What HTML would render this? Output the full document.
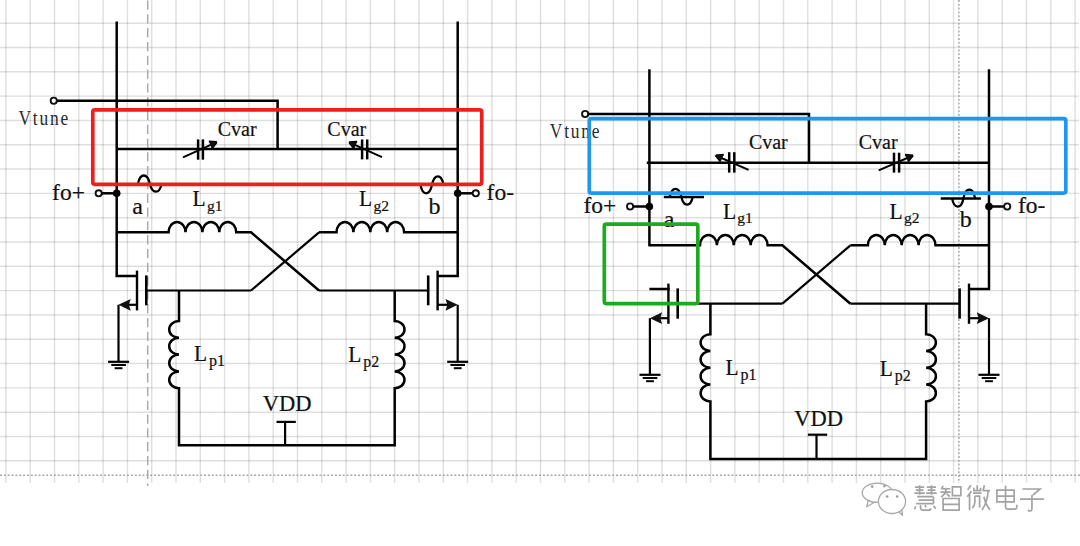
<!DOCTYPE html>
<html><head><meta charset="utf-8"><style>
html,body{margin:0;padding:0;background:#fff;}
body{width:1080px;height:546px;overflow:hidden;}
svg{display:block;}
</style></head><body>
<svg width="1080" height="546" viewBox="0 0 1080 546">
<rect width="1080" height="546" fill="#ffffff"/>
<g stroke="#000" stroke-opacity="0.125" stroke-width="1.45">
<line x1="5.9" y1="0" x2="5.9" y2="483"/>
<line x1="30.2" y1="0" x2="30.2" y2="483"/>
<line x1="54.5" y1="0" x2="54.5" y2="483"/>
<line x1="78.8" y1="0" x2="78.8" y2="483"/>
<line x1="103.1" y1="0" x2="103.1" y2="483"/>
<line x1="127.4" y1="0" x2="127.4" y2="483"/>
<line x1="151.7" y1="0" x2="151.7" y2="483"/>
<line x1="176" y1="0" x2="176" y2="483"/>
<line x1="200.3" y1="0" x2="200.3" y2="483"/>
<line x1="224.6" y1="0" x2="224.6" y2="483"/>
<line x1="248.9" y1="0" x2="248.9" y2="483"/>
<line x1="273.2" y1="0" x2="273.2" y2="483"/>
<line x1="297.5" y1="0" x2="297.5" y2="483"/>
<line x1="321.8" y1="0" x2="321.8" y2="483"/>
<line x1="346.1" y1="0" x2="346.1" y2="483"/>
<line x1="370.4" y1="0" x2="370.4" y2="483"/>
<line x1="394.7" y1="0" x2="394.7" y2="483"/>
<line x1="419" y1="0" x2="419" y2="483"/>
<line x1="443.3" y1="0" x2="443.3" y2="483"/>
<line x1="467.6" y1="0" x2="467.6" y2="483"/>
<line x1="491.9" y1="0" x2="491.9" y2="483"/>
<line x1="516.2" y1="0" x2="516.2" y2="483"/>
<line x1="540.5" y1="0" x2="540.5" y2="483"/>
<line x1="564.8" y1="0" x2="564.8" y2="483"/>
<line x1="589.1" y1="0" x2="589.1" y2="483"/>
<line x1="613.4" y1="0" x2="613.4" y2="483"/>
<line x1="637.7" y1="0" x2="637.7" y2="483"/>
<line x1="662" y1="0" x2="662" y2="483"/>
<line x1="686.3" y1="0" x2="686.3" y2="483"/>
<line x1="710.6" y1="0" x2="710.6" y2="483"/>
<line x1="734.9" y1="0" x2="734.9" y2="483"/>
<line x1="759.2" y1="0" x2="759.2" y2="483"/>
<line x1="783.5" y1="0" x2="783.5" y2="483"/>
<line x1="807.8" y1="0" x2="807.8" y2="483"/>
<line x1="832.1" y1="0" x2="832.1" y2="483"/>
<line x1="856.4" y1="0" x2="856.4" y2="483"/>
<line x1="880.7" y1="0" x2="880.7" y2="483"/>
<line x1="905" y1="0" x2="905" y2="483"/>
<line x1="929.3" y1="0" x2="929.3" y2="483"/>
<line x1="953.6" y1="0" x2="953.6" y2="483"/>
<line x1="977.9" y1="0" x2="977.9" y2="483"/>
<line x1="1002.2" y1="0" x2="1002.2" y2="483"/>
<line x1="1026.5" y1="0" x2="1026.5" y2="483"/>
<line x1="1050.8" y1="0" x2="1050.8" y2="483"/>
<line x1="1075.1" y1="0" x2="1075.1" y2="483"/>
<line x1="0" y1="23.2" x2="1079" y2="23.2"/>
<line x1="0" y1="47.51" x2="1079" y2="47.51"/>
<line x1="0" y1="71.82" x2="1079" y2="71.82"/>
<line x1="0" y1="96.13" x2="1079" y2="96.13"/>
<line x1="0" y1="120.44" x2="1079" y2="120.44"/>
<line x1="0" y1="144.75" x2="1079" y2="144.75"/>
<line x1="0" y1="169.06" x2="1079" y2="169.06"/>
<line x1="0" y1="193.37" x2="1079" y2="193.37"/>
<line x1="0" y1="217.68" x2="1079" y2="217.68"/>
<line x1="0" y1="241.99" x2="1079" y2="241.99"/>
<line x1="0" y1="266.3" x2="1079" y2="266.3"/>
<line x1="0" y1="290.61" x2="1079" y2="290.61"/>
<line x1="0" y1="314.92" x2="1079" y2="314.92"/>
<line x1="0" y1="339.23" x2="1079" y2="339.23"/>
<line x1="0" y1="363.54" x2="1079" y2="363.54"/>
<line x1="0" y1="387.85" x2="1079" y2="387.85"/>
<line x1="0" y1="412.16" x2="1079" y2="412.16"/>
<line x1="0" y1="436.47" x2="1079" y2="436.47"/>
<line x1="0" y1="460.78" x2="1079" y2="460.78"/>
</g>
<line x1="0" y1="475.2" x2="1080" y2="475.2" stroke="#a8a8a8" stroke-width="1.6" stroke-dasharray="2 1.85"/>
<line x1="147.7" y1="0.5" x2="147.7" y2="486" stroke="#ababab" stroke-width="1.5" stroke-dasharray="9.3 4.5"/>
<line x1="958.9" y1="0" x2="958.9" y2="483" stroke="#a8a8a8" stroke-width="1.5" stroke-dasharray="2 1.8"/>
<path d="M116.7 21.5 L116.7 276 L137 276" stroke="#000" stroke-width="2.5" fill="none"/>
<path d="M457.7 21.5 L457.7 276 L437.6 276" stroke="#000" stroke-width="2.5" fill="none"/>
<circle cx="53.75" cy="100.75" r="3.1" stroke="#111" stroke-width="1.9" fill="#fff"/>
<path d="M56.95 100.75 L277.6 100.75 L277.6 149" stroke="#000" stroke-width="2.5" fill="none"/>
<line x1="116.7" y1="149" x2="457.7" y2="149" stroke="#000" stroke-width="2.5"/>
<line x1="198.1" y1="139.4" x2="198.1" y2="159.7" stroke="#000" stroke-width="2.5"/>
<line x1="202.9" y1="139.4" x2="202.9" y2="159.7" stroke="#000" stroke-width="2.5"/>
<line x1="183" y1="157.4" x2="216.8" y2="142.1" stroke="#000" stroke-width="2"/>
<line x1="216.8" y1="142.1" x2="208.82" y2="141.59" stroke="#000" stroke-width="2"/>
<line x1="216.8" y1="142.1" x2="211.91" y2="148.43" stroke="#000" stroke-width="2"/>
<path d="M216.8 142.1 L208.82 141.59 L211.91 148.43 Z" fill="#111"/>
<text x="217.7" y="136" font-family="Liberation Serif" font-size="20" fill="#111" stroke="#111" stroke-width="0.2" >Cvar</text>
<line x1="362.1" y1="139.5" x2="362.1" y2="159.4" stroke="#000" stroke-width="2.5"/>
<line x1="367.2" y1="139.5" x2="367.2" y2="159.4" stroke="#000" stroke-width="2.5"/>
<line x1="382" y1="157.1" x2="349.2" y2="142.3" stroke="#000" stroke-width="2"/>
<line x1="349.2" y1="142.3" x2="354.09" y2="148.63" stroke="#000" stroke-width="2"/>
<line x1="349.2" y1="142.3" x2="357.18" y2="141.78" stroke="#000" stroke-width="2"/>
<path d="M349.2 142.3 L354.09 148.63 L357.18 141.78 Z" fill="#111"/>
<text x="327.3" y="135.8" font-family="Liberation Serif" font-size="20" fill="#111" stroke="#111" stroke-width="0.2" >Cvar</text>
<circle cx="98.7" cy="193.3" r="3.1" stroke="#111" stroke-width="1.9" fill="#fff"/>
<line x1="101.8" y1="193.3" x2="116.7" y2="193.3" stroke="#000" stroke-width="2.5"/>
<circle cx="116.7" cy="193.3" r="3.8" fill="#000"/>
<circle cx="457.7" cy="193.3" r="3.8" fill="#000"/>
<line x1="457.7" y1="193.3" x2="472.6" y2="193.3" stroke="#000" stroke-width="2.5"/>
<circle cx="475.8" cy="193.3" r="3.1" stroke="#111" stroke-width="1.9" fill="#fff"/>
<text x="52.1" y="199.6" font-family="Liberation Serif" font-size="23.5" fill="#111" stroke="#111" stroke-width="0.2" >fo+</text>
<text x="486.6" y="199.6" font-family="Liberation Serif" font-size="23.5" fill="#111" stroke="#111" stroke-width="0.2" >fo-</text>
<path d="M138 183.6 C140.12 172.83 147.44 172.83 149.8 183.6 C152.16 194.37 159.48 194.37 161.6 183.6" stroke="#000" stroke-width="2.3" fill="none" />
<path d="M420.5 184.85 C422.57 196.16 429.7 196.16 432 184.85 C434.3 173.54 441.43 173.54 443.5 184.85" stroke="#000" stroke-width="2.3" fill="none" />
<text x="132.3" y="213.9" font-family="Liberation Serif" font-size="24" fill="#111" stroke="#111" stroke-width="0.2" >a</text>
<text x="428.4" y="213.9" font-family="Liberation Serif" font-size="24" fill="#111" stroke="#111" stroke-width="0.2" >b</text>
<path d="M116.7 232.3 L168.6 232.3  A8.45 10.4 0 0 1 185.5 232.3 A8.45 10.4 0 0 1 202.4 232.3 A8.45 10.4 0 0 1 219.3 232.3 A8.45 10.4 0 0 1 236.2 232.3 L251 232.3 L319 290.5" stroke="#000" stroke-width="2.5" fill="none"/>
<path d="M457.7 232.3 L404.1 232.3  A8.45 10.4 0 0 0 387.2 232.3 A8.45 10.4 0 0 0 370.3 232.3 A8.45 10.4 0 0 0 353.4 232.3 A8.45 10.4 0 0 0 336.5 232.3 L319 232.3" stroke="#000" stroke-width="2.5" fill="none"/>
<line x1="319" y1="232.3" x2="251" y2="290.5" stroke="#000" stroke-width="2.2"/>
<line x1="146.3" y1="290.5" x2="251" y2="290.5" stroke="#000" stroke-width="2.2"/>
<line x1="319" y1="290.5" x2="428.2" y2="290.5" stroke="#000" stroke-width="2.2"/>
<text x="192.5" y="206.4" font-family="Liberation Serif" font-size="21.5" fill="#111" stroke="#111" stroke-width="0.2" transform="translate(0 206.4) scale(1 1.04) translate(0 -206.4)">L</text>
<text x="206.9" y="210.7" font-family="Liberation Serif" font-size="15.5" fill="#111" stroke="#111" stroke-width="0.2" >g1</text>
<text x="359.1" y="206.4" font-family="Liberation Serif" font-size="21.5" fill="#111" stroke="#111" stroke-width="0.2" transform="translate(0 206.4) scale(1 1.04) translate(0 -206.4)">L</text>
<text x="373.5" y="210.7" font-family="Liberation Serif" font-size="15.5" fill="#111" stroke="#111" stroke-width="0.2" >g2</text>
<line x1="137" y1="270.6" x2="137" y2="310.4" stroke="#000" stroke-width="2.4"/>
<line x1="146.3" y1="275.4" x2="146.3" y2="305.3" stroke="#000" stroke-width="2.6"/>
<line x1="137" y1="304.8" x2="121.5" y2="304.8" stroke="#000" stroke-width="2.2"/>
<path d="M118.5 304.8 L130.7 298.9 L128.87 304.8 L130.7 310.7 Z" fill="#111"/>
<line x1="118.5" y1="304.8" x2="118.5" y2="361.8" stroke="#000" stroke-width="2.2"/>
<line x1="108.1" y1="361.8" x2="129.1" y2="361.8" stroke="#000" stroke-width="2.2"/>
<line x1="111.3" y1="365" x2="125.9" y2="365" stroke="#000" stroke-width="2"/>
<line x1="114.7" y1="368.2" x2="122.5" y2="368.2" stroke="#000" stroke-width="2"/>
<line x1="437.6" y1="270.6" x2="437.6" y2="310.4" stroke="#000" stroke-width="2.4"/>
<line x1="428.2" y1="275.4" x2="428.2" y2="305.3" stroke="#000" stroke-width="2.6"/>
<line x1="437.6" y1="304.8" x2="454.7" y2="304.8" stroke="#000" stroke-width="2.2"/>
<path d="M457.7 304.8 L445.5 298.9 L447.33 304.8 L445.5 310.7 Z" fill="#111"/>
<line x1="457.7" y1="304.8" x2="457.7" y2="361.8" stroke="#000" stroke-width="2.2"/>
<line x1="447.2" y1="361.8" x2="468.2" y2="361.8" stroke="#000" stroke-width="2.2"/>
<line x1="450.4" y1="365" x2="465" y2="365" stroke="#000" stroke-width="2"/>
<line x1="453.8" y1="368.2" x2="461.6" y2="368.2" stroke="#000" stroke-width="2"/>
<path d="M179 290.5 L179 321  A9.8 8.4 0 0 0 179 337.8 A9.8 8.4 0 0 0 179 354.6 A9.8 8.4 0 0 0 179 371.4 A9.8 8.4 0 0 0 179 388.2 L179 445.3 L394.7 445.3 L394.7 388.2  A9.8 8.4 0 0 0 394.7 371.4 A9.8 8.4 0 0 0 394.7 354.6 A9.8 8.4 0 0 0 394.7 337.8 A9.8 8.4 0 0 0 394.7 321 L394.7 290.5" stroke="#000" stroke-width="2.5" fill="none"/>
<text x="194" y="361.1" font-family="Liberation Serif" font-size="21.5" fill="#111" stroke="#111" stroke-width="0.2" transform="translate(0 361.3) scale(1 1.04) translate(0 -361.3)">L</text>
<text x="209" y="365.9" font-family="Liberation Serif" font-size="16" fill="#111" stroke="#111" stroke-width="0.2" >p1</text>
<text x="348.3" y="362.1" font-family="Liberation Serif" font-size="21.5" fill="#111" stroke="#111" stroke-width="0.2" transform="translate(0 361.3) scale(1 1.04) translate(0 -361.3)">L</text>
<text x="363.3" y="366.9" font-family="Liberation Serif" font-size="16" fill="#111" stroke="#111" stroke-width="0.2" >p2</text>
<line x1="276.5" y1="421.9" x2="295.8" y2="421.9" stroke="#000" stroke-width="2.2"/>
<line x1="285.1" y1="421.9" x2="285.1" y2="445.3" stroke="#000" stroke-width="2.2"/>
<text x="262.8" y="411.3" font-family="Liberation Serif" font-size="22.5" fill="#111" stroke="#111" stroke-width="0.2" >VDD</text>
<text x="18.4" y="125" font-family="Liberation Serif" font-size="20.5" fill="#2a2a2a" stroke="#2a2a2a" stroke-width="0" textLength="58.6" lengthAdjust="spacing" transform="translate(18.4 0) scale(0.85 1) translate(-18.4 0)">Vtune</text>
<line x1="649.4" y1="69.3" x2="649.4" y2="246.3" stroke="#000" stroke-width="2.5"/>
<line x1="649.4" y1="289" x2="669.7" y2="289" stroke="#000" stroke-width="2.5"/>
<path d="M989 69.3 L989 289 L968.9 289" stroke="#000" stroke-width="2.5" fill="none"/>
<circle cx="585.15" cy="114" r="3.1" stroke="#111" stroke-width="1.9" fill="#fff"/>
<path d="M588.35 114 L809 114 L809 162.7" stroke="#000" stroke-width="2.5" fill="none"/>
<line x1="646.8" y1="162.7" x2="989" y2="162.7" stroke="#000" stroke-width="2.5"/>
<line x1="729.2" y1="152.2" x2="729.2" y2="172.6" stroke="#000" stroke-width="2.5"/>
<line x1="734.3" y1="152.2" x2="734.3" y2="172.6" stroke="#000" stroke-width="2.5"/>
<line x1="748.6" y1="169.8" x2="715.7" y2="155.5" stroke="#000" stroke-width="2"/>
<line x1="715.7" y1="155.5" x2="720.68" y2="161.76" stroke="#000" stroke-width="2"/>
<line x1="715.7" y1="155.5" x2="723.68" y2="154.87" stroke="#000" stroke-width="2"/>
<path d="M715.7 155.5 L720.68 161.76 L723.68 154.87 Z" fill="#111"/>
<text x="748.9" y="149" font-family="Liberation Serif" font-size="20" fill="#111" stroke="#111" stroke-width="0.2" >Cvar</text>
<line x1="894" y1="152.7" x2="894" y2="172.6" stroke="#000" stroke-width="2.5"/>
<line x1="899.1" y1="152.7" x2="899.1" y2="172.6" stroke="#000" stroke-width="2.5"/>
<line x1="878.7" y1="170.3" x2="913" y2="155.5" stroke="#000" stroke-width="2"/>
<line x1="913" y1="155.5" x2="905.03" y2="154.85" stroke="#000" stroke-width="2"/>
<line x1="913" y1="155.5" x2="908" y2="161.75" stroke="#000" stroke-width="2"/>
<path d="M913 155.5 L905.03 154.85 L908 161.75 Z" fill="#111"/>
<text x="858.7" y="149" font-family="Liberation Serif" font-size="20" fill="#111" stroke="#111" stroke-width="0.2" >Cvar</text>
<circle cx="630.1" cy="206.5" r="3.1" stroke="#111" stroke-width="1.9" fill="#fff"/>
<line x1="633.2" y1="206.5" x2="649.4" y2="206.5" stroke="#000" stroke-width="2.5"/>
<circle cx="649.4" cy="206.5" r="3.8" fill="#000"/>
<circle cx="989" cy="206.5" r="3.8" fill="#000"/>
<line x1="989" y1="206.5" x2="1004" y2="206.5" stroke="#000" stroke-width="2.5"/>
<circle cx="1007.2" cy="206.5" r="3.1" stroke="#111" stroke-width="1.9" fill="#fff"/>
<text x="583.5" y="212.8" font-family="Liberation Serif" font-size="23.5" fill="#111" stroke="#111" stroke-width="0.2" >fo+</text>
<text x="1018" y="212.8" font-family="Liberation Serif" font-size="23.5" fill="#111" stroke="#111" stroke-width="0.2" >fo-</text>
<path d="M669.8 196.75 C671.87 186.38 679 186.38 681.3 196.75 C683.6 207.12 690.73 207.12 692.8 196.75" stroke="#000" stroke-width="2.3" fill="none" />
<path d="M952 198.15 C954.07 209.46 961.2 209.46 963.5 198.15 C965.8 186.84 972.93 186.84 975 198.15" stroke="#000" stroke-width="2.3" fill="none" />
<line x1="663.8" y1="196.9" x2="704" y2="196.9" stroke="#000" stroke-width="2.5"/>
<line x1="940.7" y1="198.5" x2="980.9" y2="198.5" stroke="#000" stroke-width="2.5"/>
<text x="663.7" y="227.1" font-family="Liberation Serif" font-size="24" fill="#111" stroke="#111" stroke-width="0.2" >a</text>
<text x="959.8" y="227.1" font-family="Liberation Serif" font-size="24" fill="#111" stroke="#111" stroke-width="0.2" >b</text>
<path d="M649.4 245.3 L700 245.3  A8.45 10.4 0 0 1 716.9 245.3 A8.45 10.4 0 0 1 733.8 245.3 A8.45 10.4 0 0 1 750.7 245.3 A8.45 10.4 0 0 1 767.6 245.3 L782.4 245.3 L850.4 303.7" stroke="#000" stroke-width="2.5" fill="none"/>
<path d="M989 245.3 L935.5 245.3  A8.45 10.4 0 0 0 918.6 245.3 A8.45 10.4 0 0 0 901.7 245.3 A8.45 10.4 0 0 0 884.8 245.3 A8.45 10.4 0 0 0 867.9 245.3 L850.4 245.3" stroke="#000" stroke-width="2.5" fill="none"/>
<line x1="850.4" y1="245.3" x2="782.4" y2="303.7" stroke="#000" stroke-width="2.2"/>
<line x1="677.7" y1="303.7" x2="782.4" y2="303.7" stroke="#000" stroke-width="2.2"/>
<line x1="850.4" y1="303.7" x2="959.6" y2="303.7" stroke="#000" stroke-width="2.2"/>
<text x="722.9" y="218.7" font-family="Liberation Serif" font-size="21.5" fill="#111" stroke="#111" stroke-width="0.2" transform="translate(0 218.7) scale(1 1.04) translate(0 -218.7)">L</text>
<text x="737.3" y="223" font-family="Liberation Serif" font-size="15.5" fill="#111" stroke="#111" stroke-width="0.2" >g1</text>
<text x="889.5" y="218.7" font-family="Liberation Serif" font-size="21.5" fill="#111" stroke="#111" stroke-width="0.2" transform="translate(0 218.7) scale(1 1.04) translate(0 -218.7)">L</text>
<text x="903.9" y="223" font-family="Liberation Serif" font-size="15.5" fill="#111" stroke="#111" stroke-width="0.2" >g2</text>
<line x1="668.4" y1="283.6" x2="668.4" y2="323.8" stroke="#000" stroke-width="2.4"/>
<line x1="677.7" y1="288.4" x2="677.7" y2="318.7" stroke="#000" stroke-width="2.6"/>
<line x1="668.4" y1="318.2" x2="652.9" y2="318.2" stroke="#000" stroke-width="2.2"/>
<path d="M649.9 318.2 L662.1 312.3 L660.27 318.2 L662.1 324.1 Z" fill="#111"/>
<line x1="649.9" y1="318.2" x2="649.9" y2="374.8" stroke="#000" stroke-width="2.2"/>
<line x1="639.5" y1="374.8" x2="660.5" y2="374.8" stroke="#000" stroke-width="2.2"/>
<line x1="642.7" y1="378" x2="657.3" y2="378" stroke="#000" stroke-width="2"/>
<line x1="646.1" y1="381.2" x2="653.9" y2="381.2" stroke="#000" stroke-width="2"/>
<line x1="969" y1="283.6" x2="969" y2="323.8" stroke="#000" stroke-width="2.4"/>
<line x1="959.6" y1="288.4" x2="959.6" y2="318.7" stroke="#000" stroke-width="2.6"/>
<line x1="969" y1="318.2" x2="986" y2="318.2" stroke="#000" stroke-width="2.2"/>
<path d="M989 318.2 L976.8 312.3 L978.63 318.2 L976.8 324.1 Z" fill="#111"/>
<line x1="989" y1="318.2" x2="989" y2="374.8" stroke="#000" stroke-width="2.2"/>
<line x1="978.5" y1="374.8" x2="999.5" y2="374.8" stroke="#000" stroke-width="2.2"/>
<line x1="981.7" y1="378" x2="996.3" y2="378" stroke="#000" stroke-width="2"/>
<line x1="985.1" y1="381.2" x2="992.9" y2="381.2" stroke="#000" stroke-width="2"/>
<path d="M710.4 303.7 L710.4 334.2  A9.8 8.4 0 0 0 710.4 351 A9.8 8.4 0 0 0 710.4 367.8 A9.8 8.4 0 0 0 710.4 384.6 A9.8 8.4 0 0 0 710.4 401.4 L710.4 459 L926.1 459 L926.1 401.4  A9.8 8.4 0 0 0 926.1 384.6 A9.8 8.4 0 0 0 926.1 367.8 A9.8 8.4 0 0 0 926.1 351 A9.8 8.4 0 0 0 926.1 334.2 L926.1 303.7" stroke="#000" stroke-width="2.5" fill="none"/>
<text x="725.4" y="374.8" font-family="Liberation Serif" font-size="21.5" fill="#111" stroke="#111" stroke-width="0.2" transform="translate(0 375) scale(1 1.04) translate(0 -375)">L</text>
<text x="740.4" y="379.6" font-family="Liberation Serif" font-size="16" fill="#111" stroke="#111" stroke-width="0.2" >p1</text>
<text x="879.7" y="375.8" font-family="Liberation Serif" font-size="21.5" fill="#111" stroke="#111" stroke-width="0.2" transform="translate(0 375) scale(1 1.04) translate(0 -375)">L</text>
<text x="894.7" y="380.6" font-family="Liberation Serif" font-size="16" fill="#111" stroke="#111" stroke-width="0.2" >p2</text>
<line x1="807.9" y1="434.7" x2="827.2" y2="434.7" stroke="#000" stroke-width="2.2"/>
<line x1="816.5" y1="434.7" x2="816.5" y2="459" stroke="#000" stroke-width="2.2"/>
<text x="794.2" y="425.6" font-family="Liberation Serif" font-size="22.5" fill="#111" stroke="#111" stroke-width="0.2" >VDD</text>
<text x="549.8" y="138.3" font-family="Liberation Serif" font-size="20.5" fill="#2a2a2a" stroke="#2a2a2a" stroke-width="0" textLength="58.6" lengthAdjust="spacing" transform="translate(549.8 0) scale(0.85 1) translate(-549.8 0)">Vtune</text>
<rect x="92.8" y="109.8" width="388.9" height="74.5" rx="2" fill="none" stroke="#ec1f1f" stroke-width="3.7"/>
<rect x="589.3" y="118.6" width="476.5" height="74.5" rx="2" fill="none" stroke="#2196ee" stroke-width="3.7"/>
<rect x="604.3" y="224.1" width="93.5" height="79.5" rx="2" fill="none" stroke="#1eaa1e" stroke-width="3.7"/>
<g fill="#fff" stroke="#a9a9a9" stroke-width="1.3" stroke-linejoin="round">
<path d="M868.5 499.5 L866.6 506.8 L874.5 502.2 Z"/>
<ellipse cx="877.2" cy="492.8" rx="15" ry="9.6"/>
<path d="M898.5 511.5 L902.5 515.2 L901.8 509.5 Z"/>
<ellipse cx="892" cy="501.5" rx="13.6" ry="12"/>
</g>
<g fill="#9c9c9c"><circle cx="872.2" cy="486.6" r="1.3"/><circle cx="884.4" cy="486.1" r="1.3"/><circle cx="887.2" cy="496.5" r="1.3"/><circle cx="897.2" cy="496.5" r="1.3"/></g>
<g fill="none" stroke="#a3a3a3" stroke-width="1.7" stroke-linecap="butt">
<path transform="translate(913.9 485.2) scale(0.2280 0.2500)" vector-effect="non-scaling-stroke" d="M5 8H45 M8 20H42 M2 32H48 M25 0V38 M57 8H97 M60 20H94 M54 32H100 M77 0V38 M14 46H86 M20 60H86 M10 74H86 M86 46V74 M8 84L3 96 M28 80L30 94Q31 100 40 100H66Q74 100 74 92 M48 80L54 88 M86 82L96 94"/>
<path transform="translate(940 485.8) scale(0.2220 0.2440)" vector-effect="non-scaling-stroke" d="M14 0L6 14 M10 12H46 M2 26H48 M26 8V28L6 46 M30 32L44 44 M56 4H94V40H56Z M14 52H86V100H14Z M14 76H86"/>
<path transform="translate(966.7 485.2) scale(0.2390 0.2500)" vector-effect="non-scaling-stroke" d="M18 0L4 18 M20 24L2 46 M12 34V100 M44 0V22 M30 10V22H58V10 M26 32H62 M34 44V70Q32 84 24 92 M34 44H54V86L58 84 M74 0L68 24 M70 22H98 M90 22Q86 70 64 98 M72 46Q80 80 98 98"/>
<path transform="translate(995.6 485.8) scale(0.2160 0.2440)" vector-effect="non-scaling-stroke" d="M6 18H86V66H6Z M6 42H86 M46 0V86Q46 96 56 96H90Q98 96 98 86V78"/>
<path transform="translate(1020 487.6) scale(0.2390 0.2320)" vector-effect="non-scaling-stroke" d="M10 6H84L54 32 M50 32V92Q50 102 40 100L32 98 M0 50H100"/>
</g>
</svg>
</body></html>
